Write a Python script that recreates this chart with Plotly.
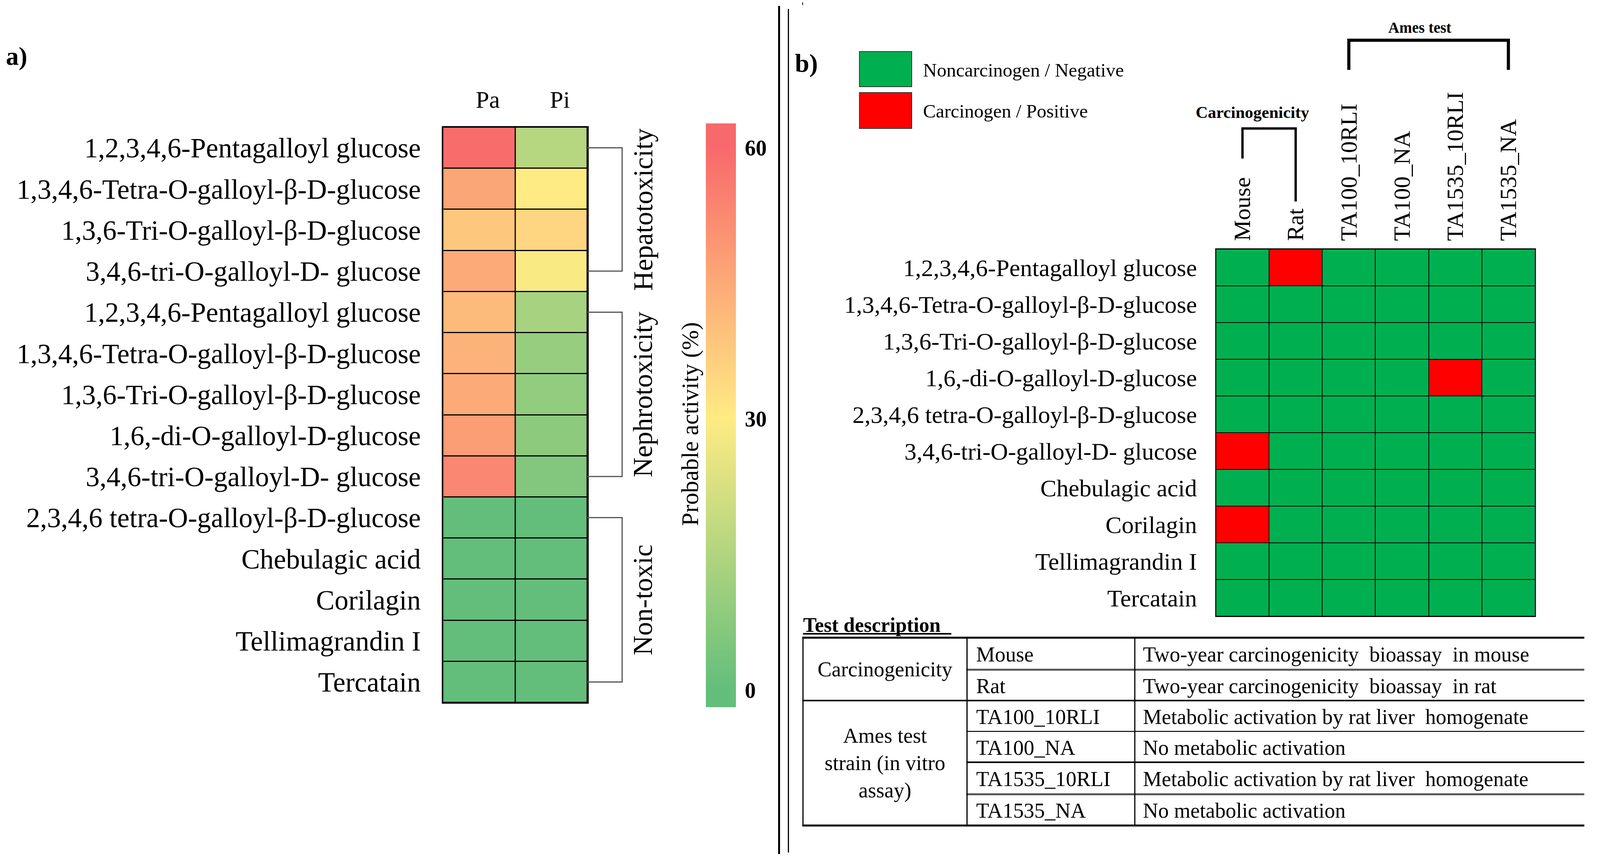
import plotly.graph_objects as go

# Layout is designed on a 4282 x 2210 reference grid and expressed as paper fractions.
RW, RH = 4282, 2210


def X(px):
    return px / RW


def Y(py):
    return 1 - py / RH


SERIF = "Liberation Serif"
FS = 0.97  # font scale


def F(size, **kw):
    d = dict(family=SERIF, size=round(size * FS), color="black")
    d.update(kw)
    return d


# ---------------- data: panel a ----------------
left_compounds = [
    "1,2,3,4,6-Pentagalloyl glucose",
    "1,3,4,6-Tetra-O-galloyl-β-D-glucose",
    "1,3,6-Tri-O-galloyl-β-D-glucose",
    "3,4,6-tri-O-galloyl-D- glucose",
    "1,2,3,4,6-Pentagalloyl glucose",
    "1,3,4,6-Tetra-O-galloyl-β-D-glucose",
    "1,3,6-Tri-O-galloyl-β-D-glucose",
    "1,6,-di-O-galloyl-D-glucose",
    "3,4,6-tri-O-galloyl-D- glucose",
    "2,3,4,6 tetra-O-galloyl-β-D-glucose",
    "Chebulagic acid",
    "Corilagin",
    "Tellimagrandin I",
    "Tercatain",
]
activity_cols = ["Pa", "Pi"]
pa_values = [59, 46, 38, 45, 41, 43, 45, 48, 53, 0, 0, 0, 0, 0]
pi_values = [16, 30, 35, 29, 13, 10, 9, 8, 6, 0, 0, 0, 0, 0]
tox_groups = ["Hepatotoxicity", "Nephrotoxicity", "Non-toxic"]
group_first = [0, 4, 9]
group_last = [3, 8, 13]
cbar_ticks = [0, 30, 60]
cbar_title = "Probable activity (%)"

# ---------------- data: panel b ----------------
right_compounds = [
    "1,2,3,4,6-Pentagalloyl glucose",
    "1,3,4,6-Tetra-O-galloyl-β-D-glucose",
    "1,3,6-Tri-O-galloyl-β-D-glucose",
    "1,6,-di-O-galloyl-D-glucose",
    "2,3,4,6 tetra-O-galloyl-β-D-glucose",
    "3,4,6-tri-O-galloyl-D- glucose",
    "Chebulagic acid",
    "Corilagin",
    "Tellimagrandin I",
    "Tercatain",
]
tests = ["Mouse", "Rat", "TA100_10RLI", "TA100_NA", "TA1535_10RLI", "TA1535_NA"]
# 1 = Carcinogen / Positive, 0 = Noncarcinogen / Negative
result_rows = [
    [0, 1, 0, 0, 0, 0],
    [0, 0, 0, 0, 0, 0],
    [0, 0, 0, 0, 0, 0],
    [0, 0, 0, 0, 1, 0],
    [0, 0, 0, 0, 0, 0],
    [1, 0, 0, 0, 0, 0],
    [0, 0, 0, 0, 0, 0],
    [1, 0, 0, 0, 0, 0],
    [0, 0, 0, 0, 0, 0],
    [0, 0, 0, 0, 0, 0],
]
legend_labels = ["Noncarcinogen / Negative", "Carcinogen / Positive"]
test_groups = ["Carcinogenicity", "Ames test"]

table_groups = ["Carcinogenicity", "Ames test<br>strain (in vitro<br>assay)"]
table_group_rows = [(0, 1), (2, 5)]
table_tests = ["Mouse", "Rat", "TA100_10RLI", "TA100_NA", "TA1535_10RLI", "TA1535_NA"]
table_desc = [
    "Two-year carcinogenicity  bioassay  in mouse",
    "Two-year carcinogenicity  bioassay  in rat",
    "Metabolic activation by rat liver  homogenate",
    "No metabolic activation",
    "Metabolic activation by rat liver  homogenate",
    "No metabolic activation",
]

# ---------------- colours ----------------
GREEN_XL, YELLOW_XL, RED_XL = "#63BE7B", "#FFEB84", "#F8696B"
NEG, POS = "#00B050", "#FF0000"
ZMIN, ZMAX = -1.9, 62.7


def norm(v):
    return (v - ZMIN) / (ZMAX - ZMIN)


scale_a = [
    [0.0, GREEN_XL],
    [norm(0), GREEN_XL],
    [norm(30), YELLOW_XL],
    [norm(60), RED_XL],
    [1.0, RED_XL],
]
scale_b = [[0, NEG], [0.5, NEG], [0.5, POS], [1, POS]]

fig = go.Figure()

z_a = [[pa, pi] for pa, pi in zip(pa_values, pi_values)]
fig.add_trace(
    go.Heatmap(
        z=z_a,
        x=activity_cols,
        y=list(range(len(left_compounds))),
        colorscale=scale_a,
        zmin=ZMIN,
        zmax=ZMAX,
        xgap=3,
        ygap=3,
        hoverinfo="skip",
        xaxis="x",
        yaxis="y",
        colorbar=dict(
            x=X(1889),
            xanchor="left",
            y=Y(1063.5),
            yanchor="middle",
            lenmode="fraction",
            len=1495 / RH,
            thicknessmode="fraction",
            thickness=81 / RW,
            xpad=0,
            ypad=0,
            outlinewidth=0,
            tickvals=cbar_ticks,
            ticktext=[str(t) for t in cbar_ticks],
            ticks="outside",
            ticklen=12,
            tickcolor="rgba(0,0,0,0)",
            tickfont=F(58, weight="bold"),
        ),
    )
)

fig.add_trace(
    go.Heatmap(
        z=result_rows,
        x=tests,
        y=list(range(len(right_compounds))),
        colorscale=scale_b,
        zmin=0,
        zmax=1,
        xgap=2,
        ygap=2,
        showscale=False,
        hoverinfo="skip",
        xaxis="x2",
        yaxis="y2",
    )
)

common = dict(showgrid=False, zeroline=False, showline=True, mirror=True,
              linecolor="black", ticks="", fixedrange=True)

fig.update_layout(
    width=4074,
    height=2194,
    autosize=False,
    margin=dict(l=0, r=0, t=0, b=0),
    paper_bgcolor="white",
    plot_bgcolor="black",
    showlegend=False,
    font=dict(family=SERIF, color="black"),
    xaxis=dict(domain=[X(1186), X(1572)], side="top", anchor="y",
               tickfont=F(64), ticklabelstandoff=22, ticklabelshift=22,
               linewidth=3, **common),
    yaxis=dict(domain=[Y(1799), Y(326)], anchor="x", autorange="reversed",
               tickvals=list(range(len(left_compounds))), ticktext=left_compounds,
               tickfont=F(73), ticklabelstandoff=40, linewidth=3, **common),
    xaxis2=dict(domain=[X(3254), X(4108)], side="top", anchor="y2", tickangle=-90,
                tickfont=F(62), ticklabelstandoff=7, linewidth=2, **common),
    yaxis2=dict(domain=[Y(1578), Y(638)], anchor="x2", autorange="reversed",
                tickvals=list(range(len(right_compounds))), ticktext=right_compounds,
                tickfont=F(64), ticklabelstandoff=34, linewidth=2, **common),
)

shapes = []
annotations = []


def note(text, x, y, size, xanchor="center", yanchor="middle", xref="paper", yref="paper",
         angle=0, align="center", **fkw):
    annotations.append(dict(text=text, x=x, y=y, xref=xref, yref=yref, xanchor=xanchor,
                            yanchor=yanchor, textangle=angle, showarrow=False, align=align,
                            font=F(size, **fkw)))


# --- panel a: group brackets and labels ---
for name, f, l in zip(tox_groups, group_first, group_last):
    shapes.append(dict(type="path", xref="paper", yref="y",
                       path=f"M {X(1572)},{f} H {X(1665)} V {l} H {X(1572)}",
                       line=dict(color="#555555", width=3)))
    note(name, X(1721), (f + l) / 2, 72, yref="y", angle=-90)

note(cbar_title, X(1847), Y(1086), 63, angle=-90)
note("<b>a)</b>", X(14), Y(144), 68, xanchor="left")
note("<b>b)</b>", X(2125), Y(162), 68, xanchor="left")

# --- divider double line ---
shapes.append(dict(type="line", xref="paper", yref="paper", x0=X(2085), x1=X(2085),
                   y0=Y(15), y1=Y(2187), line=dict(color="black", width=5)))
shapes.append(dict(type="line", xref="paper", yref="paper", x0=X(2110), x1=X(2110),
                   y0=Y(23), y1=Y(2183), line=dict(color="black", width=3)))
shapes.append(dict(type="line", xref="paper", yref="paper", x0=X(2148), x1=X(2148),
                   y0=Y(6), y1=Y(13), line=dict(color="black", width=2)))

# --- panel b: legend ---
legend_boxes = [(132, 222), (237, 329)]
for (y0, y1), col, lab in zip(legend_boxes, [NEG, POS], legend_labels):
    shapes.append(dict(type="rect", xref="paper", yref="paper", x0=X(2300), x1=X(2440),
                       y0=Y(y1), y1=Y(y0), fillcolor=col, line=dict(color="#333333", width=2)))
    note(lab, X(2468), Y((y0 + y1) / 2 + 2), 51, xanchor="left")

# --- panel b: column-group brackets ---
shapes.append(dict(type="path", xref="x2", yref="paper",
                   path=f"M 0,{Y(406)} V {Y(329)} H 1 V {Y(516)}",
                   line=dict(color="black", width=6)))
note(f"<b>{test_groups[0]}</b>", X(3352), Y(288), 44)
shapes.append(dict(type="path", xref="x2", yref="paper",
                   path=f"M 2,{Y(179)} V {Y(103)} H 5 V {Y(179)}",
                   line=dict(color="black", width=8)))
note(f"<b>{test_groups[1]}</b>", X(3800), Y(70), 40)

# --- test description table ---
note("<b>Test description</b>", X(2147), Y(1600), 54, xanchor="left")
shapes.append(dict(type="line", xref="paper", yref="paper", x0=X(2149), x1=X(2546),
                   y0=Y(1623), y1=Y(1623), line=dict(color="black", width=4)))

row_edges = [1633, 1715, 1794, 1873, 1952, 2034, 2114]
TL, C1, C2, TR = 2149, 2588, 3037, 4240
hlines = [
    (TL, 5, "black"),
    (C1, 5, "#555555"),
    (TL, 4, "black"),
    (C1, 2.5, "black"),
    (C1, 4, "black"),
    (C1, 5, "#555555"),
    (TL, 5, "black"),
]
for yy, (x0, w, c) in zip(row_edges, hlines):
    shapes.append(dict(type="line", xref="paper", yref="paper", x0=X(x0 - 2), x1=X(TR),
                       y0=Y(yy), y1=Y(yy), line=dict(color=c, width=w)))
for xx, w in [(TL, 3), (C1, 3), (C2, 3)]:
    shapes.append(dict(type="line", xref="paper", yref="paper", x0=X(xx), x1=X(xx),
                       y0=Y(row_edges[0]), y1=Y(row_edges[-1]),
                       line=dict(color="black", width=w)))

for g, (r0, r1) in zip(table_groups, table_group_rows):
    yc = (row_edges[r0] + row_edges[r1 + 1]) / 2
    note(g, X((TL + C1) / 2), Y(yc), 56)
for i, (t, d) in enumerate(zip(table_tests, table_desc)):
    yc = (row_edges[i] + row_edges[i + 1]) / 2 + 2
    note(t, X(C1 + 22), Y(yc), 56, xanchor="left")
    note(d, X(C2 + 20), Y(yc), 56, xanchor="left")

fig.update_layout(shapes=shapes, annotations=annotations)

fit_script = """
document.body.style.margin = '0';
document.body.style.overflow = 'hidden';
document.documentElement.style.overflow = 'hidden';
var gd = document.getElementById('{plot_id}');
Plotly.relayout(gd, {width: window.innerWidth, height: window.innerHeight});
"""

fig.write_html("out.html", post_script=fit_script,
               config={"displayModeBar": False, "staticPlot": True})
